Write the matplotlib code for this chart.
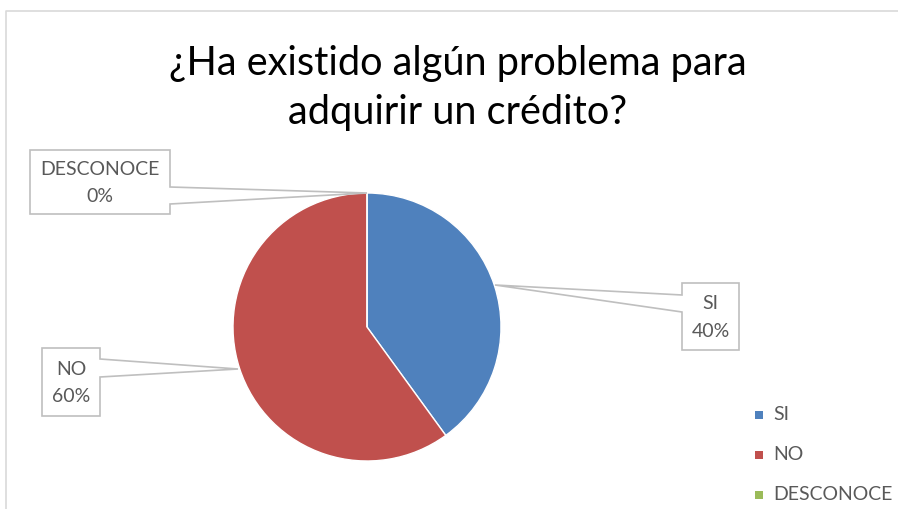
import matplotlib.pyplot as plt
from matplotlib.patches import Polygon, Rectangle

labels = ["SI", "NO", "DESCONOCE"]
values = [40, 60, 0]
colors = ["#4F81BD", "#C0504D", "#9BBB59"]
title = "¿Ha existido algún problema para\nadquirir un crédito?"

W, H = 898, 509
plt.rcParams['font.family'] = ['Lato', 'DejaVu Sans']
txt = "#595959"

fig = plt.figure(figsize=(W / 100, H / 100), dpi=100)
ax = fig.add_axes([0, 0, 1, 1])
ax.set_xlim(0, W)
ax.set_ylim(0, H)
ax.set_aspect('equal')
ax.axis('off')


def Y(y):
    # image rows -> axes coords
    return H - y


# outer chart frame
ax.plot([6, 6, W + 5], [Y(H + 5), Y(11), Y(11)], color="#D9D9D9", lw=1.2)

ax.pie(values, colors=colors, startangle=90, counterclock=False,
       center=(367, Y(327)), radius=134,
       wedgeprops=dict(edgecolor="white", linewidth=1))
ax.set_xlim(0, W)
ax.set_ylim(0, H)

ax.text(458, Y(88), title, ha="center", va="center", fontsize=28.6,
        color="black", linespacing=1.4)

# callouts: box (x0, y0, x1, y1), side, anchor points on side, tip
callouts = [
    ((30, 150, 170, 214), "right", (187, 204), (367, 193)),
    ((682, 283, 739, 350), "left", (295, 312), (495, 285)),
    ((42, 348, 100, 416), "right", (359, 377), (238, 369)),
]
pct = [f"{l}\n{v}%" for l, v in zip(labels, values)]
order = [2, 0, 1]
for (box, side, (a, b), tip), i in zip(callouts, order):
    x0, y0, x1, y1 = box
    if side == "right":
        pts = [(x0, y0), (x1, y0), (x1, a), tip, (x1, b), (x1, y1), (x0, y1)]
    else:
        pts = [(x0, y0), (x1, y0), (x1, y1), (x0, y1), (x0, b), tip, (x0, a)]
    pts = [(px, Y(py)) for px, py in pts]
    ax.add_patch(Polygon(pts, closed=True, facecolor="white",
                         edgecolor="#BFBFBF", lw=1.2, zorder=5))
    ax.text((x0 + x1) / 2, Y((y0 + y1) / 2 + 1), pct[i], ha="center", va="center",
            fontsize=14, color=txt, linespacing=1.75, zorder=6)

# legend
for k, (lab, c) in enumerate(zip(labels, colors)):
    yy = Y(415 + 40 * k)
    ax.add_patch(Rectangle((755, yy - 4), 8, 8, facecolor=c, edgecolor="none"))
    ax.text(773, yy, lab, ha="left", va="center", fontsize=14, color=txt)

fig.savefig("out.png", dpi=100)
